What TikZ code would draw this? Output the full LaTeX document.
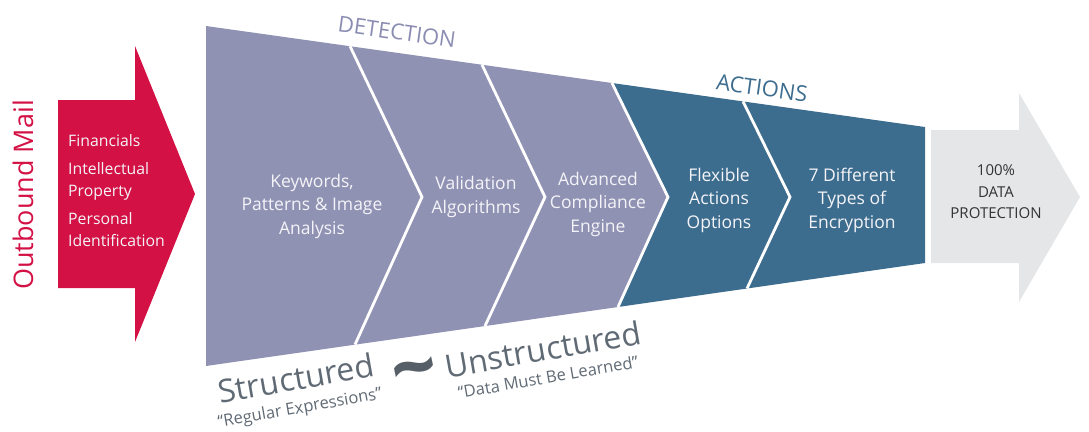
\documentclass[tikz,border=0pt]{standalone}
\usepackage{fontspec}
\setmainfont{Open Sans}
\definecolor{redc}{HTML}{D31145}
\definecolor{grayc}{HTML}{E5E6E8}
\definecolor{purp}{HTML}{9092B4}
\definecolor{purptxt}{HTML}{8A8CB2}
\definecolor{bluec}{HTML}{3D6D8E}
\definecolor{slate}{HTML}{606A74}
\definecolor{txtw}{HTML}{F4F4F8}
\begin{document}
\begin{tikzpicture}[x=1pt,y=-1pt,
  stage/.style={align=center, text=txtw, inner sep=0pt, font=\fontsize{17.5}{23.5}\selectfont},
  divider/.style={draw=white, line width=2.8pt},
  heading/.style={inner sep=0pt, font=\fontsize{22}{26}\selectfont, rotate=-8},
  bigword/.style={inner sep=0pt, text=slate, font=\fontsize{32}{36}\selectfont, rotate=10},
  quoteword/.style={inner sep=0pt, text=slate, font=\fontsize{16.5}{19}\selectfont, rotate=10}]
\useasboundingbox (0,0) rectangle (1089,431);
% red input arrow
\fill[redc] (58,100) -- (135,100) -- (135,46) -- (195,194) -- (135,342) -- (135,288) -- (58,288) -- cycle;
% gray output arrow
\fill[grayc] (931,130) -- (1019,130) -- (1019,93) -- (1080,197) -- (1019,302) -- (1019,263) -- (931,263) -- cycle;
% funnel: detection part
\fill[purp] (206,26) -- (612,83) -- (668,197) -- (618,307) -- (206,366) -- cycle;
% funnel: actions part
\fill[bluec] (612,83) -- (925,127) -- (925,263) -- (618,307) -- (668,197) -- cycle;
% chevron dividers
\draw[divider] (350,46.2) -- (422,197) -- (355,344.6);
\draw[divider] (482,64.8) -- (545,197) -- (485,326);
\draw[divider] (612,83) -- (668,197) -- (618,307);
\draw[divider] (743,101.4) -- (790,197) -- (747,288.5);
% labels
\node[rotate=90, text=redc, inner sep=0pt, font=\fontsize{27}{30}\selectfont] (mail) at (23,195) {Outbound Mail};
\node[anchor=west, align=left, text=txtw, inner sep=0pt, font=\fontsize{15.8}{22}\selectfont] (items) at (68,191)
  {Financials\\[6pt]Intellectual\\Property\\[6pt]Personal\\Identification};
\node[stage] (kw) at (312,206) {Keywords,\\Patterns \& Image\\Analysis};
\node[stage] (val) at (476,197) {Validation\\Algorithms};
\node[stage] (adv) at (598,204) {Advanced\\Compliance\\Engine};
\node[stage] (flex) at (719,200) {Flexible\\Actions\\Options};
\node[stage] (enc) at (852,200) {7 Different\\Types of\\Encryption};
\node[align=center, text=black!80, inner sep=0pt, font=\fontsize{15}{21.5}\selectfont] (prot) at (996,192) {100\%\\DATA\\PROTECTION};
\node[heading, text=purptxt] (det) at (397,32) {DETECTION};
\node[heading, text=bluec] (act) at (762,88) {ACTIONS};
\node[bigword] (str) at (296,378) {Structured};
\node[quoteword] (regex) at (300,409) {“Regular Expressions”};
\node[inner sep=0pt, text=slate!90!black, rotate=12, font=\fontsize{80}{80}\bfseries\selectfont] (tilde) at (416,378) {\textasciitilde};
\node[bigword] (unstr) at (543,349) {Unstructured};
\node[quoteword] (learn) at (548,377) {“Data Must Be Learned”};
\end{tikzpicture}
\end{document}
